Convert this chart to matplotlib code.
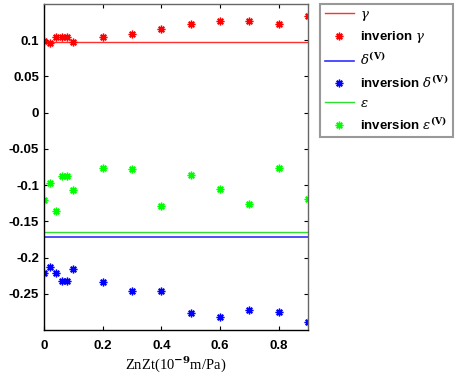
import matplotlib
matplotlib.use('Agg')
import matplotlib.pyplot as plt

# data
zn = [0, 0.02, 0.04, 0.06, 0.08, 0.1, 0.2, 0.3, 0.4, 0.5, 0.6, 0.7, 0.8, 0.9]
gamma_inv = [0.099, 0.096, 0.104, 0.105, 0.105, 0.098, 0.105, 0.109,
             0.115, 0.123, 0.126, 0.126, 0.122, 0.133]
delta_inv = [-0.221, -0.213, -0.222, -0.232, -0.232, -0.216, -0.234, -0.246,
             -0.246, -0.277, -0.282, -0.273, -0.275, -0.289]
eps_inv = [-0.121, -0.097, -0.136, -0.087, -0.087, -0.107, -0.076, -0.078,
           -0.129, -0.086, -0.106, -0.126, -0.076, -0.119]
gamma_true = 0.098
delta_true = -0.172
eps_true = -0.165

plt.rcParams['font.family'] = 'sans-serif'
plt.rcParams['font.sans-serif'] = ['Liberation Sans', 'DejaVu Sans']
plt.rcParams['mathtext.fontset'] = 'dejavuserif'

fig = plt.figure(figsize=(4.56, 3.77), dpi=100)
ax = fig.add_axes([44 / 456, 47 / 377, 264 / 456, 326 / 377])

star = (8, 2, 0)  # asterisk, like matlab '*'
ax.plot([0, 0.9], [gamma_true, gamma_true], color='#ff3030', lw=1, label=r'$\gamma$')
ax.plot(zn, gamma_inv, ls='none', marker=star, color='red', ms=5.5, mew=1, label=r'inverion $\gamma$')
ax.plot([0, 0.9], [delta_true, delta_true], color='#3030ff', lw=1.2, label=r'$\delta^{\mathbf{(V)}}$')
ax.plot(zn, delta_inv, ls='none', marker=star, color='blue', ms=5.5, mew=1, label=r'inversion $\delta^{\mathbf{(V)}}$')
ax.plot([0, 0.9], [eps_true, eps_true], color='#30e030', lw=1, label=r'$\varepsilon$')
ax.plot(zn, eps_inv, ls='none', marker=star, color='#00ff00', ms=5.5, mew=1, label=r'inversion $\varepsilon^{\mathbf{(V)}}$')

ax.set_xlim(0, 0.9)
ax.set_ylim(-0.3, 0.15)
ax.set_xticks([0, 0.2, 0.4, 0.6, 0.8])
ax.set_xticklabels(['0', '0.2', '0.4', '0.6', '0.8'])
ax.set_yticks([-0.25, -0.2, -0.15, -0.1, -0.05, 0, 0.05, 0.1])
ax.set_yticklabels(['-0.25', '-0.2', '-0.15', '-0.1', '-0.05', '0', '0.05', '0.1'])
ax.tick_params(direction='in', top=True, right=True, length=3, labelsize=9.5)
ax.tick_params(axis='x', pad=7)
for t in ax.get_xticklabels() + ax.get_yticklabels():
    t.set_fontweight('bold')
for s in ax.spines.values():
    s.set_linewidth(1)
ax.spines['top'].set_color('#666666')
ax.spines['right'].set_color('#666666')

ax.set_xlabel(r'ZnZt(10$^{\mathbf{-9}}$m/Pa)', family='Liberation Serif', fontsize=10.5, labelpad=2)

leg = fig.legend(loc='upper left', bbox_to_anchor=(320 / 456, 373 / 377),
                 fancybox=False, prop={'weight': 'bold', 'size': 9.5},
                 handlelength=2.2, handletextpad=0.5, borderaxespad=0,
                 borderpad=0.35, labelspacing=0.5)
leg.get_frame().set_edgecolor('#808080')
leg.get_frame().set_linewidth(1.5)

fig.savefig('out.png', dpi=100)
